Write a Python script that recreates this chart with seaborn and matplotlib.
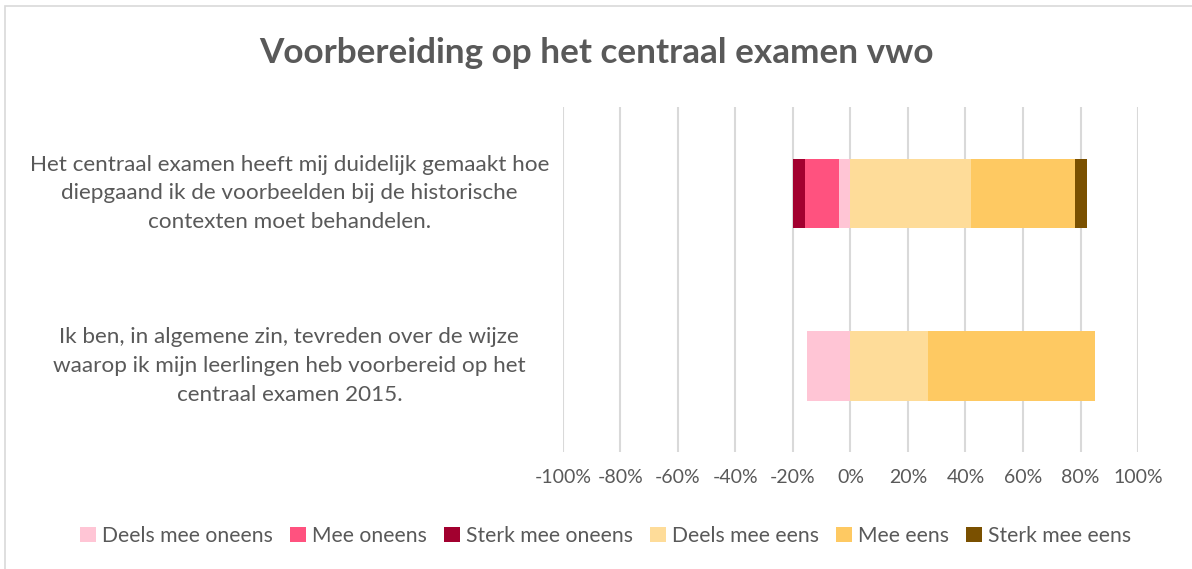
import pandas as pd
import seaborn as sns
import matplotlib.pyplot as plt
from matplotlib.patches import Patch, Rectangle

# Data (percent of respondents)
questions = [
    "Het centraal examen heeft mij duidelijk gemaakt hoe\n"
    "diepgaand ik de voorbeelden bij de historische\n"
    "contexten moet behandelen.",
    "Ik ben, in algemene zin, tevreden over de wijze\n"
    "waarop ik mijn leerlingen heb voorbereid op het\n"
    "centraal examen 2015.",
]
neg_labels = ["Deels mee oneens", "Mee oneens", "Sterk mee oneens"]
pos_labels = ["Deels mee eens", "Mee eens", "Sterk mee eens"]
deels_oneens = [4.0, 15.2]
mee_oneens = [11.7, 0.0]
sterk_oneens = [4.4, 0.0]
deels_eens = [42.0, 27.1]
mee_eens = [36.1, 58.1]
sterk_eens = [4.3, 0.0]

colors = {
    "Deels mee oneens": "#FFC5D5",
    "Mee oneens": "#FF527F",
    "Sterk mee oneens": "#A2002F",
    "Deels mee eens": "#FEDC99",
    "Mee eens": "#FEC962",
    "Sterk mee eens": "#7A5000",
}

df = pd.DataFrame({
    "question": questions,
    "Deels mee oneens": deels_oneens,
    "Mee oneens": mee_oneens,
    "Sterk mee oneens": sterk_oneens,
    "Deels mee eens": deels_eens,
    "Mee eens": mee_eens,
    "Sterk mee eens": sterk_eens,
})

# cumulative ends: negative side goes left from 0, positive side right from 0
for side, labels in (("neg", neg_labels), ("pos", pos_labels)):
    run = 0
    for lab in labels:
        run = run + df[lab]
        df[lab + "_end"] = -run if side == "neg" else run

sns.set_theme(style="white")
plt.rcParams["font.family"] = ["Lato", "DejaVu Sans"]
grey = "#595959"

fig = plt.figure(figsize=(11.92, 5.69), dpi=100)
ax = fig.add_axes([0.4723, 0.205, 0.4824, 0.607])

# draw the longest cumulative bar first so shorter ones sit on top
for labels in (neg_labels, pos_labels):
    for lab in reversed(labels):
        sns.barplot(data=df, x=lab + "_end", y="question", color=colors[lab],
                    orient="h", width=0.4, linewidth=0, saturation=1, ax=ax)

ax.set_xlim(-100, 100)
ax.set_xticks(range(-100, 101, 20))
ax.set_xticklabels([f"{t}%" for t in range(-100, 101, 20)])
ax.set_xlabel("")
ax.set_ylabel("")
ax.grid(axis="x", color="#D9D9D9", linewidth=1.5)
ax.set_axisbelow(True)
for s in ax.spines.values():
    s.set_visible(False)
ax.tick_params(axis="x", length=0, pad=12, labelsize=14, labelcolor=grey)
ax.tick_params(axis="y", length=0, pad=197, labelsize=16.2, labelcolor=grey)
for lbl in ax.get_yticklabels():
    lbl.set_ha("center")
    lbl.set_va("center")
    lbl.set_multialignment("center")
    lbl.set_linespacing(1.55)

fig.suptitle("Voorbereiding op het centraal examen vwo", y=0.935,
             fontsize=25.3, fontweight="bold", color=grey)

handles = [Patch(facecolor=colors[l], edgecolor="none", label=l)
           for l in neg_labels + pos_labels]
fig.legend(handles=handles, loc="center", bbox_to_anchor=(0.508, 0.058),
           ncol=6, frameon=False, fontsize=15.2, labelcolor=grey,
           handlelength=0.75, handleheight=0.75, handletextpad=0.3,
           columnspacing=0.8)

# light chart-area border like the Excel original
fig.patches.append(Rectangle((0.004, -0.01), 1.1, 1.0, transform=fig.transFigure,
                             fill=False, edgecolor="#D9D9D9", linewidth=1.2))

fig.savefig("out.png", dpi=100)
